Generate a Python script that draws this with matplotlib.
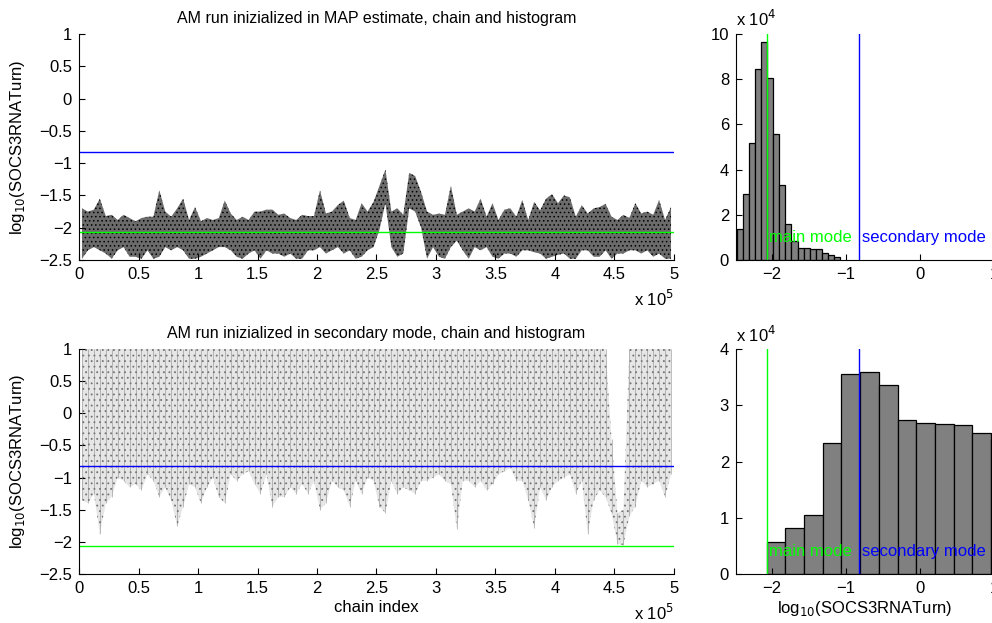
import numpy as np
import matplotlib
matplotlib.use('Agg')
import matplotlib.pyplot as plt
from matplotlib.ticker import FuncFormatter

plt.rcParams['font.family'] = ['Liberation Sans', 'DejaVu Sans']
plt.rcParams['font.size'] = 12
plt.rcParams['hatch.linewidth'] = 0.6

# mode estimates (log10 scale)
main_mode = -2.07
secondary_mode = -0.825

# chain summaries: upper / lower extent of the samples in blocks of 5000 iterations
block = 5000
map_hi = [-1.70, -1.75, -1.72, -1.55, -1.82, -1.80, -1.88, -1.80, -1.85, -1.90,
          -1.85, -1.83, -1.83, -1.42, -1.75, -1.83, -1.70, -1.55, -1.88, -1.68,
          -1.90, -1.85, -1.88, -1.85, -1.58, -1.78, -1.88, -1.83, -1.88, -1.75,
          -1.75, -1.72, -1.72, -1.80, -1.78, -1.85, -1.88, -1.80, -1.82, -1.82,
          -1.42, -1.78, -1.75, -1.65, -1.58, -1.85, -1.88, -1.62, -1.75, -1.60,
          -1.35, -1.10, -1.75, -1.70, -1.80, -1.15, -1.20, -1.45, -1.75, -1.80,
          -1.78, -1.80, -1.35, -1.80, -1.75, -1.70, -1.75, -1.55, -1.83, -1.62,
          -1.88, -1.72, -1.70, -1.83, -1.57, -1.88, -1.60, -1.73, -1.55, -1.48,
          -1.62, -1.50, -1.53, -1.83, -1.65, -1.78, -1.70, -1.68, -1.63, -1.83,
          -1.88, -1.80, -1.85, -1.62, -1.78, -1.75, -1.80, -1.57, -1.88, -1.68]
map_lo = [-2.48, -2.35, -2.30, -2.35, -2.40, -2.48, -2.35, -2.30, -2.45, -2.45,
          -2.48, -2.35, -2.48, -2.45, -2.30, -2.35, -2.30, -2.35, -2.48, -2.48,
          -2.45, -2.40, -2.35, -2.30, -2.30, -2.35, -2.45, -2.48, -2.40, -2.35,
          -2.48, -2.35, -2.40, -2.40, -2.45, -2.40, -2.48, -2.48, -2.35, -2.35,
          -2.30, -2.40, -2.35, -2.30, -2.40, -2.35, -2.48, -2.45, -2.35, -2.30,
          -2.03, -1.62, -2.30, -2.45, -2.40, -1.70, -1.75, -2.00, -2.48, -2.30,
          -2.45, -2.48, -2.30, -2.20, -2.35, -2.48, -2.30, -2.35, -2.30, -2.45,
          -2.48, -2.40, -2.40, -2.45, -2.35, -2.35, -2.38, -2.40, -2.48, -2.45,
          -2.42, -2.40, -2.48, -2.48, -2.35, -2.35, -2.45, -2.45, -2.35, -2.48,
          -2.40, -2.40, -2.35, -2.35, -2.40, -2.35, -2.45, -2.40, -2.48, -2.48]

sec_hi = [1.0] * 89 + [-0.40, -1.55, -1.50] + [1.0] * 8
sec_lo = [-1.35, -1.40, -1.25, -1.87, -1.40, -1.30, -1.00, -1.05, -1.15, -1.10,
          -1.20, -0.95, -1.05, -1.30, -1.15, -1.35, -1.76, -1.45, -1.10, -1.15,
          -1.40, -1.15, -1.00, -1.30, -1.40, -0.95, -1.05, -0.95, -0.90, -1.10,
          -1.25, -0.95, -1.45, -1.30, -1.30, -1.15, -1.25, -1.10, -1.25, -1.05,
          -1.50, -1.40, -1.05, -1.15, -1.20, -1.45, -1.05, -1.25, -1.00, -1.05,
          -1.45, -1.55, -1.05, -1.25, -1.15, -1.20, -1.25, -1.05, -1.05, -1.00,
          -0.95, -1.05, -1.10, -1.80, -1.05, -1.05, -1.15, -1.05, -1.20, -1.10,
          -0.95, -0.90, -0.85, -1.05, -1.05, -1.35, -1.78, -1.15, -1.35, -1.15,
          -1.05, -1.00, -0.95, -1.25, -1.05, -1.87, -1.35, -1.20, -1.30, -1.55,
          -2.03, -2.05, -1.60, -1.45, -1.05, -1.15, -1.10, -1.05, -1.30, -0.95]

# histograms
map_bin_start, map_bin_width = -2.477, 0.0822
map_counts = [13600, 29200, 51900, 84400, 96300, 80400, 55600, 33000, 15900,
              8600, 5200, 5200, 5000, 5000, 3000, 2200, 1300]
sec_bin_start, sec_bin_width = -2.072, 0.2526
sec_counts = [5730, 8150, 10500, 23300, 35570, 36000, 33600, 27400, 26900,
              26600, 26500, 25100, 24000]

W, H = 992, 623
fig = plt.figure(figsize=(W / 100, H / 100), dpi=100)


def fmt(scale):
    return FuncFormatter(lambda v, p: ('%g' % (v / scale)).replace('-', '\u2212'))


def style(ax):
    ax.spines['top'].set_visible(False)
    ax.spines['right'].set_visible(False)
    ax.tick_params(direction='in', length=4, width=0.8, labelsize=12, pad=5)


def chain_plot(ax, hi, lo, title, fill_col, dot_col, hatch, streak_col=None):
    centers = np.arange(len(hi)) * block + block / 2
    ax.fill_between(centers, lo, hi, facecolor=fill_col, edgecolor=dot_col,
                    hatch=hatch, lw=0)
    if streak_col is not None:
        ax.vlines(centers, lo, hi, color=streak_col, lw=0.5, alpha=0.7)
    ax.axhline(secondary_mode, color='blue', lw=1)
    ax.axhline(main_mode, color='#00ff00', lw=1)
    ax.set_xlim(0, 5e5)
    ax.set_ylim(-2.5, 1)
    ax.set_xticks(np.arange(0, 5.01e5, 0.5e5))
    ax.xaxis.set_major_formatter(fmt(1e5))
    ax.set_yticks(np.arange(-2.5, 1.01, 0.5))
    ax.yaxis.set_major_formatter(fmt(1))
    ax.set_ylabel('log$_{10}$(SOCS3RNATurn)', fontsize=12)
    ax.yaxis.set_label_coords(-0.088, 0.5)
    ax.set_title(title, fontsize=11.5, pad=8)
    ax.text(1.0, -0.13, r'x 10$^5$', transform=ax.transAxes, ha='right',
            va='top', fontsize=12)
    style(ax)


def hist_plot(ax, start, width, counts, ymax, yticks):
    edges = start + width * np.arange(len(counts))
    ax.bar(edges, counts, width=width, align='edge', color='0.5',
           edgecolor='k', lw=0.9)
    ax.axvline(main_mode, color='#00ff00', lw=1)
    ax.axvline(secondary_mode, color='blue', lw=1)
    ax.set_xlim(-2.486, 1.0)
    ax.set_ylim(0, ymax)
    ax.set_xticks([-2, -1, 0, 1])
    ax.xaxis.set_major_formatter(fmt(1))
    ax.set_yticks(yticks)
    ax.yaxis.set_major_formatter(fmt(1e4))
    ax.text(main_mode + 0.035, 0.1 * ymax, 'main mode', color='#00ff00',
            va='center', fontsize=12)
    ax.text(secondary_mode + 0.035, 0.1 * ymax, 'secondary mode', color='blue',
            va='center', fontsize=12)
    ax.text(0.0, 1.02, r'x 10$^4$', transform=ax.transAxes, ha='left',
            va='bottom', fontsize=12)
    style(ax)


ax1 = fig.add_axes([79 / W, 1 - 260 / H, 595 / W, 226 / H])
ax2 = fig.add_axes([79 / W, 1 - 574 / H, 595 / W, 225 / H])
ax3 = fig.add_axes([736 / W, 1 - 260 / H, 258 / W, 226 / H])
ax4 = fig.add_axes([736 / W, 1 - 574 / H, 258 / W, 225 / H])

chain_plot(ax1, map_hi, map_lo,
           'AM run inizialized in MAP estimate, chain and histogram',
           '0.42', '0.0', '....')
chain_plot(ax2, sec_hi, sec_lo,
           'AM run inizialized in secondary mode, chain and histogram',
           '0.9', '0.45', '...', streak_col='0.5')
ax2.set_xlabel('chain index', fontsize=12, labelpad=3)

hist_plot(ax3, map_bin_start, map_bin_width, map_counts, 1e5,
          np.arange(0, 1.01e5, 2e4))
hist_plot(ax4, sec_bin_start, sec_bin_width, sec_counts, 4e4,
          np.arange(0, 4.01e4, 1e4))
ax4.set_xlabel('log$_{10}$(SOCS3RNATurn)', fontsize=12, labelpad=2)

fig.savefig('out.png', dpi=100)
